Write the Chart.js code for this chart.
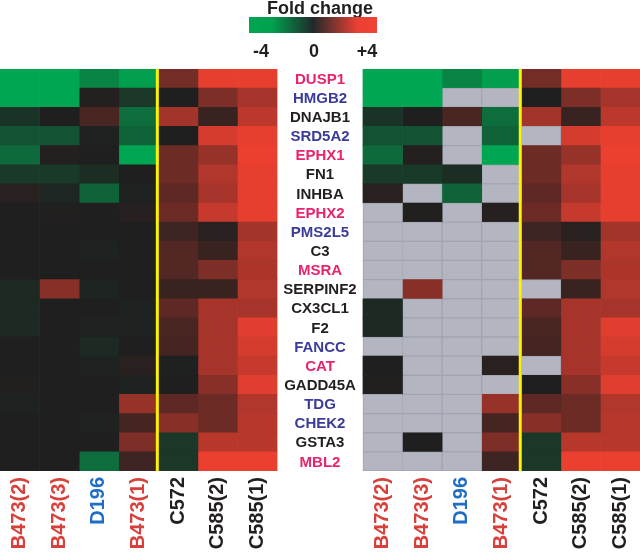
<!DOCTYPE html>
<html>
<head>
<meta charset="utf-8">
<title>Fold change heatmap</title>
<script src="https://cdn.jsdelivr.net/npm/chart.js@4.4.1/dist/chart.umd.min.js"></script>
<style>
  html, body { margin: 0; padding: 0; background: #fff; }
  #heatmap { display: block; }
</style>
</head>
<body>
<canvas id="heatmap" width="640" height="554"></canvas>
<script>
// ========================= data

const genes = ['DUSP1', 'HMGB2', 'DNAJB1', 'SRD5A2', 'EPHX1', 'FN1', 'INHBA', 'EPHX2', 'PMS2L5', 'C3', 'MSRA',
  'SERPINF2', 'CX3CL1', 'F2', 'FANCC', 'CAT', 'GADD45A', 'TDG', 'CHEK2', 'GSTA3', 'MBL2'];
// p = pink, b = blue, k = black
const geneGroups = ['p', 'b', 'k', 'b', 'p', 'k', 'k', 'p', 'b', 'k', 'p', 'k', 'k', 'k', 'b', 'p', 'k', 'b', 'b', 'k', 'p'];

const samples = ['B473(2)', 'B473(3)', 'D196', 'B473(1)', 'C572', 'C585(2)', 'C585(1)'];
const sampleGroups = ['r', 'r', 'b', 'r', 'k', 'k', 'k'];

// fold change for each sample, one value per gene (same order as genes)
const b473_2 = [-4, -4, -0.6, -1.5, -2.2, -0.8, 0.2, 0, 0, 0, 0, -0.3, -0.3, -0.3, 0, 0, 0.05, -0.1, 0, 0, 0];
const b473_3 = [-4, -4, 0, -1.5, 0.1, -0.8, -0.2, 0.05, 0, 0, 0, 2.0, 0, 0, 0, 0, 0, 0, 0, 0, 0];
const d196   = [-3, 0.1, 0.8, -0.1, 0, -0.4, -2, 0, 0, -0.1, 0, -0.15, 0, -0.1, -0.3, -0.1, 0, 0, -0.1, 0, -2.3];
const b473_1 = [-3.8, -0.7, -2.3, -2, -4, 0, -0.1, 0.15, 0, 0, 0, 0, -0.1, -0.1, 0, 0.2, -0.1, 2.3, 0.7, 1.8, 0.6];
const c572   = [1.6, 0, 2.5, 0, 1.5, 1.5, 1.2, 1.5, 0.6, 1.0, 1.0, 0.5, 1.2, 0.8, 0.7, -0.05, 0, 1.2, 2.0, -0.7, -0.7];
const c585_2 = [3.8, 1.8, 0.5, 3.5, 2.3, 2.8, 2.6, 3.2, 0.2, 0.5, 1.8, 0.5, 2.6, 2.6, 2.6, 2.6, 2.0, 1.5, 1.5, 2.9, 3.9];
const c585_1 = [3.8, 2.6, 3.0, 3.8, 3.9, 3.8, 3.8, 3.8, 2.5, 2.8, 2.7, 2.8, 2.6, 3.7, 3.5, 3.2, 3.7, 2.8, 2.9, 2.9, 3.9];

// genes shown grey (no value) in the right hand panel, per sample (gene indexes)
const missing_b473_2 = [7, 8, 9, 10, 11, 14, 17, 18, 19, 20];
const missing_b473_3 = [6, 8, 9, 10, 12, 13, 14, 15, 16, 17, 18, 20];
const missing_d196   = [1, 3, 4, 7, 8, 9, 10, 11, 12, 13, 14, 15, 16, 17, 18, 19, 20];
const missing_b473_1 = [1, 5, 6, 8, 9, 10, 11, 12, 13, 14, 16];
const missing_c572   = [3, 11, 15];
const missing_c585_2 = [];
const missing_c585_1 = [];

const keyTicks = [-4, 0, 4];
const keyLabels = ['-4', '0', '+4'];

// ========================= helpers

const values = [b473_2, b473_3, d196, b473_1, c572, c585_2, c585_1];
const missingRight = [missing_b473_2, missing_b473_3, missing_d196, missing_b473_1, missing_c572, missing_c585_2, missing_c585_1];

const panelGap = 2.17;
const rightStart = samples.length + panelGap;
const fontFamily = '"Liberation Sans", Arial, sans-serif';

const geneColors = { p: '#e8246e', b: '#3b3b9c', k: '#231f20' };
const sampleColors = { r: '#d8403b', b: '#1f6dc6', k: '#231f20' };

const greenEnd = [0, 166, 81];
const zeroCol = [31, 31, 31];
const redEnd = [240, 64, 48];

function foldColor(v){
  let t = Math.min(Math.abs(v) / 4, 1);
  let end = v < 0 ? greenEnd : redEnd;
  let c = zeroCol.map((z, k) => Math.round(z + (end[k] - z) * t));
  return 'rgb(' + c[0] + ',' + c[1] + ',' + c[2] + ')';
}

let datasets = [];
let tickCenters = [];
for (let p = 0; p < 2; p++) {
  for (let c = 0; c < samples.length; c++) {
    let x0 = p * rightStart + c;
    let grey = genes.map((g, i) => p === 1 && missingRight[c].includes(i));
    tickCenters.push(x0 + 0.5);
    datasets.push({
      label: samples[c],
      data: genes.map(() => [x0, x0 + 1]),
      backgroundColor: genes.map((g, i) => grey[i] ? '#b3b5c0' : foldColor(values[c][i])),
      borderColor: '#a2a4b0',
      borderWidth: grey.map(g => g ? 1 : 0),
      borderSkipped: false,
      grouped: false,
      barPercentage: 1,
      categoryPercentage: 1
    });
  }
}

// ========================= plugins

const yellowLines = {
  id: 'yellowLines',
  afterDatasetsDraw(chart){
    let ctx = chart.ctx, area = chart.chartArea, x = chart.scales.x;
    ctx.save();
    ctx.strokeStyle = '#fff200';
    ctx.lineWidth = 3;
    [4, rightStart + 4].forEach(v => {
      let px = x.getPixelForValue(v) - 1;
      ctx.beginPath();
      ctx.moveTo(px, area.top);
      ctx.lineTo(px, area.bottom);
      ctx.stroke();
    });
    ctx.restore();
  }
};

const geneLabels = {
  id: 'geneLabels',
  afterDraw(chart){
    let ctx = chart.ctx, x = chart.scales.x, y = chart.scales.y;
    let cx = (x.getPixelForValue(samples.length) + x.getPixelForValue(rightStart)) / 2;
    ctx.save();
    ctx.font = 'bold 15px ' + fontFamily;
    ctx.textAlign = 'center';
    ctx.textBaseline = 'middle';
    genes.forEach((g, i) => {
      ctx.fillStyle = geneColors[geneGroups[i]];
      ctx.fillText(g, cx, y.getPixelForValue(i) + 1);
    });
    ctx.restore();
  }
};

const colorKey = {
  id: 'colorKey',
  afterDraw(chart){
    let ctx = chart.ctx;
    let cx = chart.width / 2;
    let left = cx - 71, width = 128, top = 17, height = 16;
    ctx.save();
    ctx.font = 'bold 18px ' + fontFamily;
    ctx.fillStyle = '#231f20';
    ctx.textAlign = 'center';
    ctx.textBaseline = 'alphabetic';
    ctx.fillText('Fold change', cx, 14);

    let grad = ctx.createLinearGradient(left, 0, left + width, 0);
    grad.addColorStop(0, 'rgb(0,166,81)');
    grad.addColorStop(0.18, 'rgb(0,160,80)');
    grad.addColorStop(0.5, 'rgb(32,42,42)');
    grad.addColorStop(0.85, 'rgb(236,64,52)');
    grad.addColorStop(1, 'rgb(240,66,52)');
    ctx.fillStyle = grad;
    ctx.fillRect(left, top, width, height);

    ctx.fillStyle = '#231f20';
    ctx.font = 'bold 18px ' + fontFamily;
    keyTicks.forEach((v, i) => {
      let px = left + 12 + (v + 4) / 8 * (width - 22);
      ctx.fillText(keyLabels[i], px, 57);
    });
    ctx.restore();
  }
};

// ========================= chart

const heatmap = new Chart(document.getElementById('heatmap'), {
  type: 'bar',
  data: { labels: genes, datasets: datasets },
  options: {
    indexAxis: 'y',
    responsive: false,
    animation: false,
    layout: { padding: { top: 69, left: 0, right: 0, bottom: 0 } },
    plugins: { legend: { display: false }, tooltip: { enabled: false } },
    scales: {
      y: { display: false },
      x: {
        type: 'linear',
        min: 0,
        max: rightStart + samples.length,
        grid: { display: false, drawTicks: false },
        border: { display: false },
        afterBuildTicks: s => { s.ticks = tickCenters.map(v => ({ value: v })); },
        afterFit: s => { s.height = 83; s.paddingLeft = 0; s.paddingRight = 0; },
        ticks: {
          autoSkip: false,
          minRotation: 90,
          maxRotation: 90,
          padding: 6,
          font: { family: fontFamily, size: 20, weight: 'bold' },
          color: ctx => sampleColors[sampleGroups[ctx.index % samples.length]],
          callback: (v, i) => samples[i % samples.length]
        }
      }
    }
  },
  plugins: [yellowLines, geneLabels, colorKey]
});
</script>
</body>
</html>
